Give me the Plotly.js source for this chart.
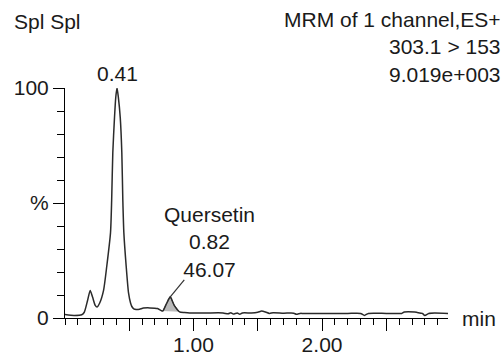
<!DOCTYPE html>
<html>
<head>
<meta charset="utf-8">
<script src="https://cdn.plot.ly/plotly-3.0.1.min.js"></script>
<style>html,body{margin:0;padding:0;background:#fff;}#chart{width:503px;height:356px;}</style>
</head>
<body>
<div id="chart"></div>
<script>
// Chromatogram trace (time in min, relative intensity in %)
var timeMin = [0, 0.07, 0.13, 0.15, 0.175, 0.196, 0.215, 0.235, 0.25, 0.27, 0.30, 0.325, 0.354, 0.363, 0.372, 0.385, 0.395, 0.405, 0.415, 0.43, 0.442, 0.45, 0.458, 0.476, 0.494, 0.51, 0.52, 0.535, 0.554, 0.58, 0.61, 0.66, 0.72, 0.749, 0.761, 0.79, 0.819, 0.85, 0.891, 0.93, 0.97, 1.1, 1.23, 1.27, 1.29, 1.31, 1.34, 1.36, 1.38, 1.45, 1.5, 1.53, 1.56, 1.59, 1.62, 1.7, 1.78, 1.8, 1.83, 1.85, 2.0, 2.2, 2.3, 2.33, 2.36, 2.5, 2.62, 2.64, 2.72, 2.74, 2.78, 2.8, 2.83, 2.98];
var intensity = [1.5, 1.1, 1.4, 2.5, 7.5, 12, 9, 5.5, 4.8, 6.5, 12, 22.5, 37, 51, 72, 87, 96, 100, 96, 87, 72, 51, 37, 22.5, 11, 6.5, 5, 4, 3.7, 3.8, 4.3, 4.4, 4.1, 3.2, 3.0, 6.3, 9.2, 5.5, 2.7, 2.4, 2.2, 2.2, 2.2, 1.8, 2.3, 1.7, 2.2, 1.6, 2.2, 2.2, 2.5, 3.0, 2.6, 2.0, 2.3, 2.1, 2.1, 1.6, 2.0, 2.0, 2.0, 2.0, 2.0, 1.1, 2.0, 2.0, 2.0, 2.6, 2.6, 2.4, 2.0, 1.1, 2.0, 2.0];

// Integrated (shaded) peak of Quersetin
var peakTime = [0.761, 0.79, 0.819, 0.85, 0.891];
var peakIntensity = [3.0, 6.3, 9.2, 5.5, 2.7];

// Labels
var mainPeakRT = 0.41;
var compoundName = "Quersetin";
var compoundRT = "0.82";
var compoundArea = "46.07";
var sampleLabel = "Spl Spl";
var headerLines = ["MRM of 1 channel,ES+", "303.1 &gt; 153", "9.019e+003"];

// Axis ticks
var xTickVals = [0.5, 1, 1.5, 2, 2.5];
var xTickText = ["", "1.00", "", "2.00", ""];
var yTickVals = [0, 50, 100];
var yTickText = ["0", "%", "100"];

var FONT = "Liberation Sans, Arial, Helvetica, sans-serif";
var TXT = "#1a1a1a";

var traces = [
  {
    x: peakTime, y: peakIntensity, type: "scatter", mode: "lines",
    fill: "toself", fillcolor: "#bababa",
    line: {color: "#444", width: 0.9}, hoverinfo: "skip", cliponaxis: false
  },
  {
    x: timeMin, y: intensity, type: "scatter", mode: "lines",
    line: {color: "#2b2b2b", width: 1.5, shape: "spline", smoothing: 0.6},
    cliponaxis: false
  }
];

var pH = 230, pT = 88, pW = 383, pL = 65;
var layout = {
  width: 503, height: 356,
  margin: {l: pL, r: 503 - pL - pW, t: pT, b: 356 - pT - pH},
  paper_bgcolor: "#fff", plot_bgcolor: "#fff",
  showlegend: false,
  font: {family: FONT, size: 21, color: TXT},
  xaxis: {
    range: [0, 2.98], showgrid: false, zeroline: false,
    showline: true, linecolor: "#000", linewidth: 1,
    ticks: "outside", ticklen: 12, tickwidth: 1, tickcolor: "#000",
    tickmode: "array", tickvals: xTickVals, ticktext: xTickText,
    ticklabelstandoff: -4,
    tickfont: {family: FONT, size: 21, color: TXT},
    minor: {ticks: "outside", ticklen: 6, tickwidth: 1, tickcolor: "#000", dtick: 0.1, tick0: 0, showgrid: false}
  },
  yaxis: {
    range: [0, 100], showgrid: false, zeroline: false,
    showline: true, linecolor: "#000", linewidth: 1,
    ticks: "outside", ticklen: 11, tickwidth: 1, tickcolor: "#000",
    tickmode: "array", tickvals: yTickVals, ticktext: yTickText,
    tickfont: {family: FONT, size: 21, color: TXT},
    minor: {ticks: "outside", ticklen: 7, tickwidth: 1, tickcolor: "#000", dtick: 10, tick0: 0, showgrid: false}
  },
  shapes: [
    {type: "line", xref: "x", yref: "y",
     xsizemode: "pixel", ysizemode: "pixel",
     xanchor: peakTime[2], yanchor: peakIntensity[2],
     x0: 0, x1: 14, y0: 0, y1: 17,
     line: {color: "#333", width: 1.2}, layer: "above"}
  ],
  annotations: [
    {xref: "paper", yref: "paper", x: (12 - pL) / pW, y: 1 + (pT - 21) / pH,
     xanchor: "left", yanchor: "middle", text: sampleLabel, showarrow: false,
     font: {family: FONT, size: 21, color: TXT}},
    {xref: "paper", yref: "paper", x: (503 - pL) / pW, y: 1 + (pT - 47) / pH,
     xanchor: "right", yanchor: "middle", align: "right", text: headerLines.join("<br>"), showarrow: false,
     font: {family: FONT, size: 21, color: TXT}},
    {xref: "x", yref: "y", x: mainPeakRT, y: 100, xanchor: "center", yanchor: "bottom",
     text: String(mainPeakRT), showarrow: false, yshift: 1,
     font: {family: FONT, size: 21, color: TXT}},
    {xref: "x", yref: "y", x: peakTime[2], y: peakIntensity[2],
     text: compoundName + "<br>" + compoundRT + "<br>" + compoundArea,
     showarrow: false, xanchor: "center", yanchor: "middle", xshift: 39, yshift: 55, align: "center",
     font: {family: FONT, size: 21, color: TXT}},
    {xref: "paper", yref: "y", x: 1, y: 0, xanchor: "left", yanchor: "middle", xshift: 12,
     text: "min", showarrow: false, font: {family: FONT, size: 21, color: TXT}}
  ]
};

Plotly.newPlot("chart", traces, layout, {displayModeBar: false, staticPlot: true});
</script>
</body>
</html>
